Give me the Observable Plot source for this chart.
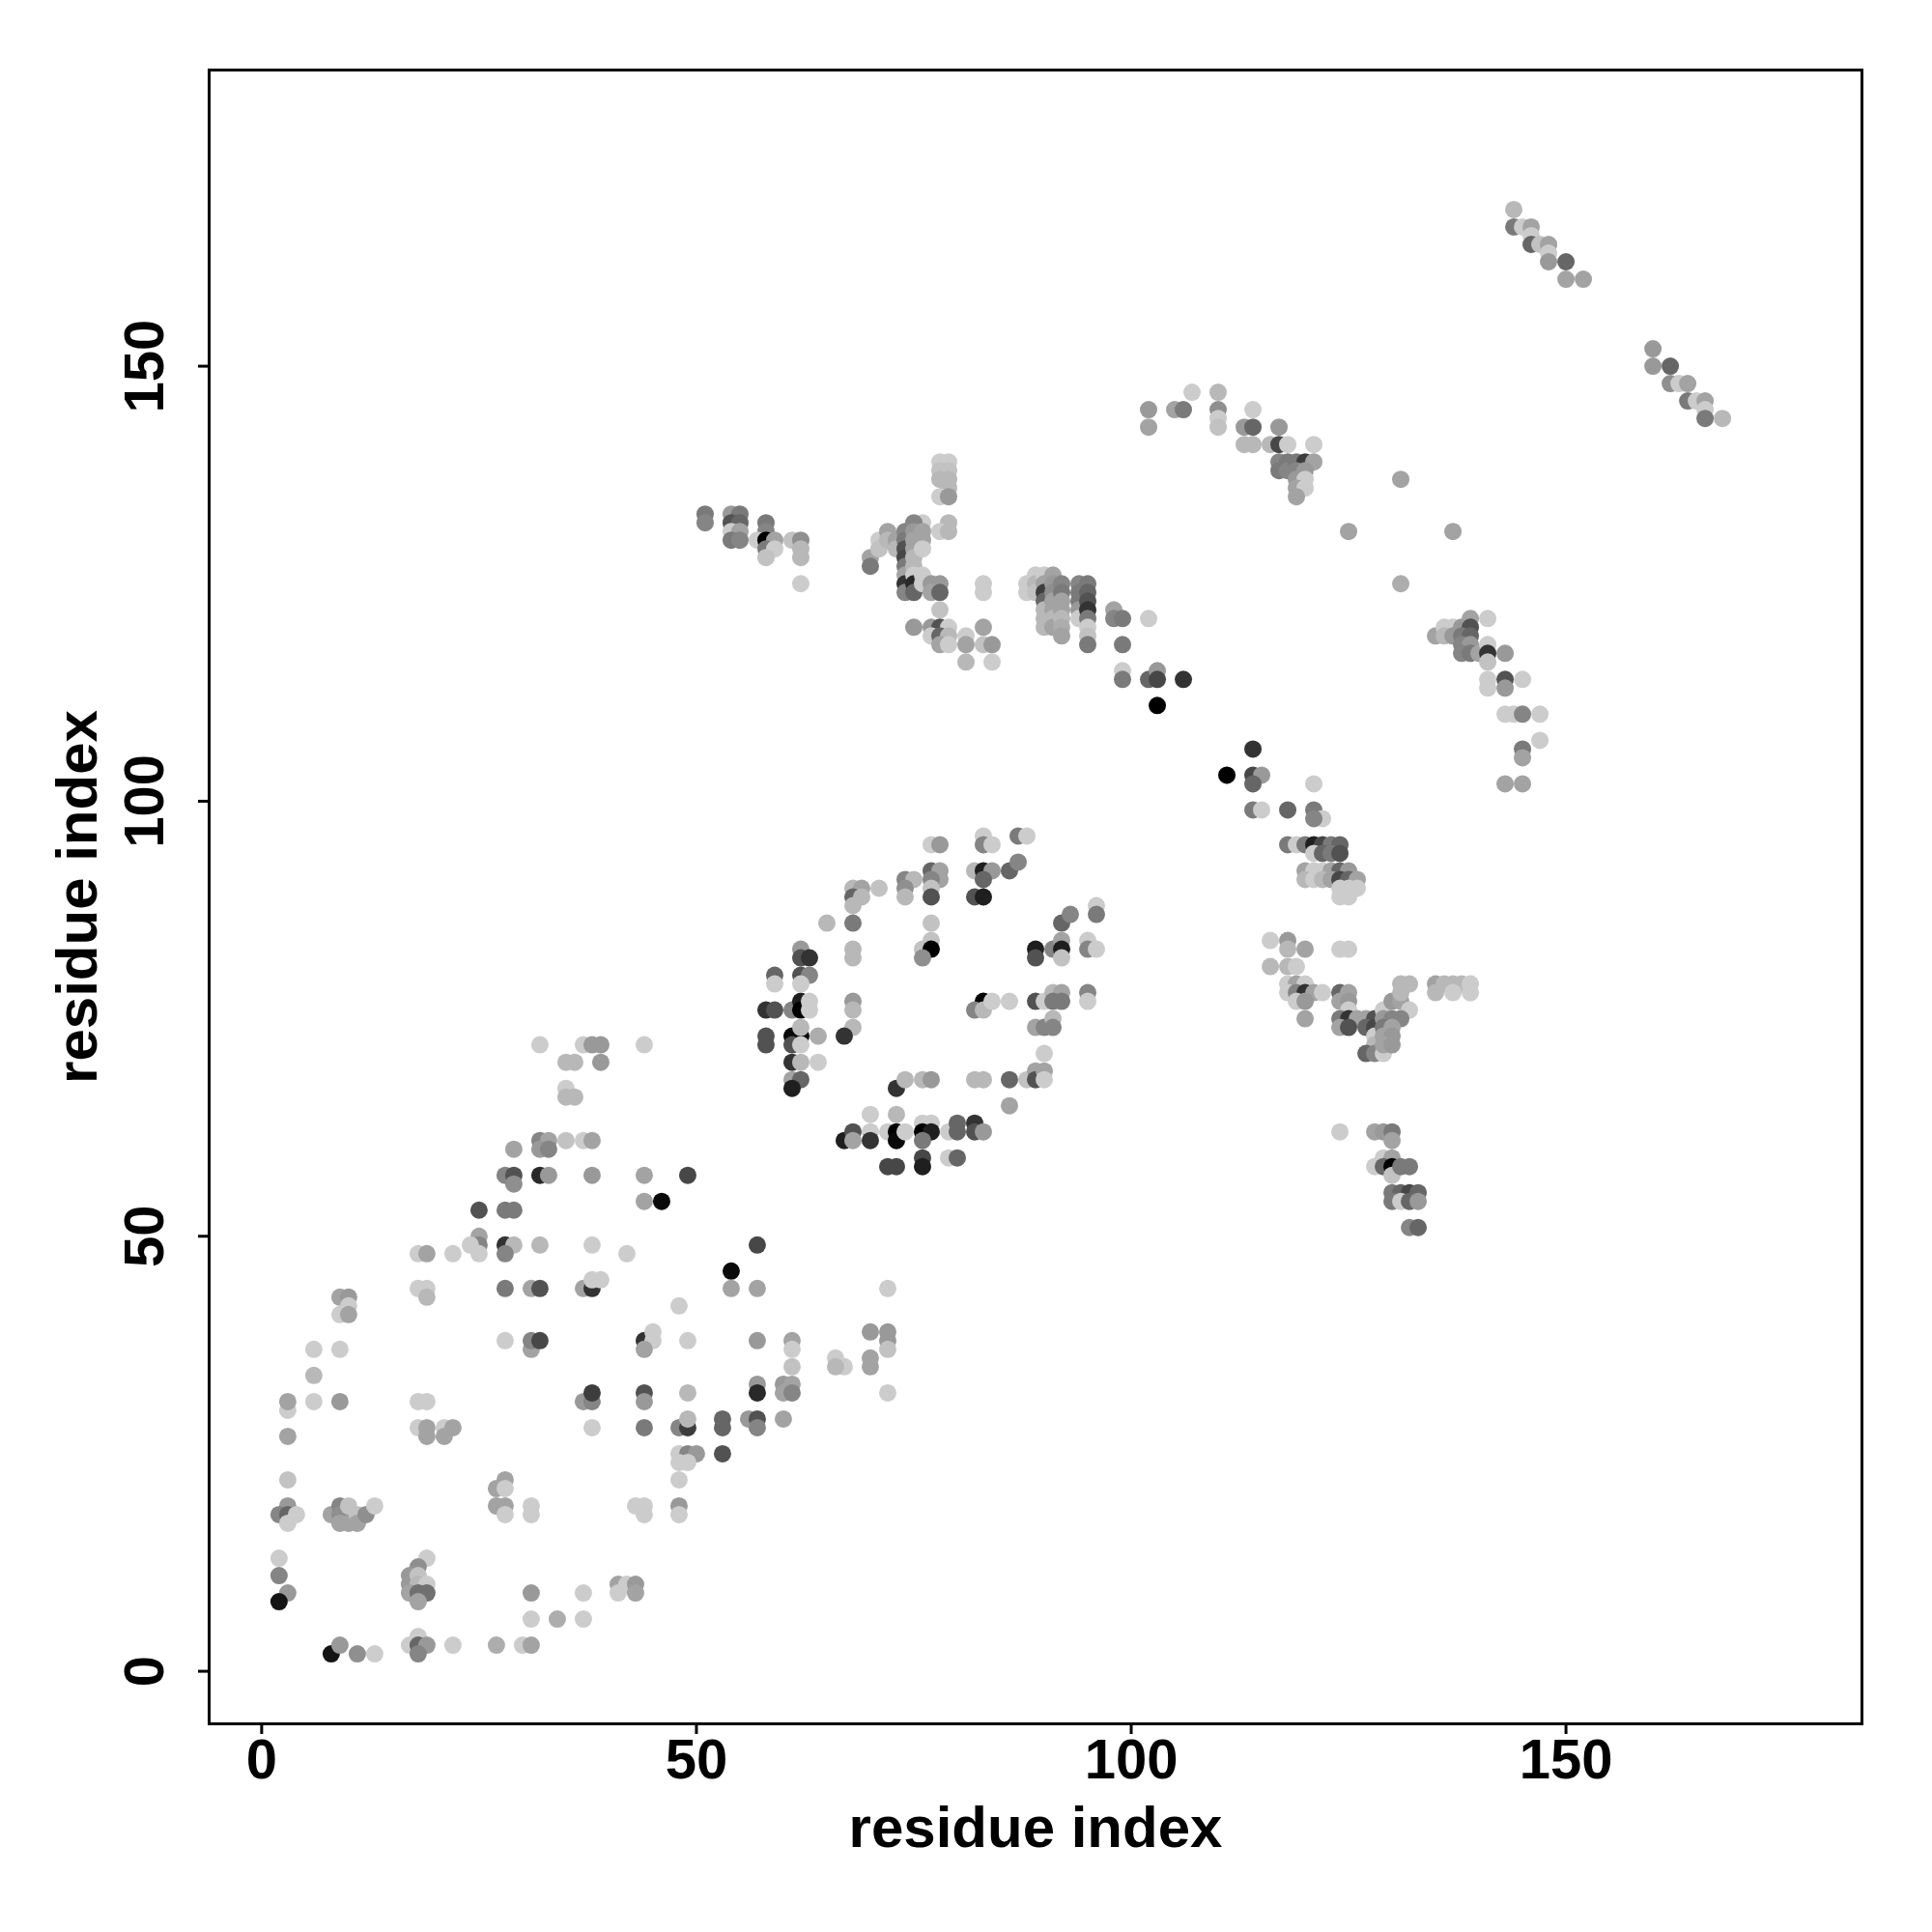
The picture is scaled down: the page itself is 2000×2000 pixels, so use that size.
<!DOCTYPE html>
<html><head><meta charset="utf-8">
<script src="https://cdn.jsdelivr.net/npm/d3@7"></script>
<script src="https://cdn.jsdelivr.net/npm/@observablehq/plot@0.6"></script>
<style>body{margin:0;background:#fff} svg{display:block}</style>
</head><body><div id="chart"></div>
<script>
// [residue i, residue j, shade score 0 (light) .. 10 (black)]
const lowerLeftA = [
[6,37,0],[9,37,0],[6,34,1],[3,30,0],[3,31,2],[6,31,0],[9,31,2.5],[3,27,2],
[18,31,0],[19,31,0],[18,28,0],[19,28,2],[19,27,2],[21,28,0],[22,28,2],[21,27,2],
[28,38,0],[31,37,2],[31,38,3.5],[32,38,6.5],
[37,31,2.5],[38,31,3.5],[38,32,7],[38,28,0],
[3,22,0.5],
[3,19,2.5],[2,18,3.5],[3,18,5],[4,18,0],[3,17,0],
[8,18,2],[9,19,3.5],[9,18,3],[9,17,2],[10,19,0.5],[10,17,2],[11,18,0.5],[11,17,2],[12,18,3],[13,19,0],
[27,21,2],[28,22,2],[28,21,0],[27,19,2],[28,19,2],[28,18,0],[31,19,0],[31,18,0],
[2,13,0],[2,11,3.5],[3,9,2.5],[2,8,9],
[19,13,0],[18,12,3],[17,11,2.5],[17,10,2.5],[18,11,0.5],[18,10,1],[19,10,0],[17,9,2],[18,9,4.5],[19,9,4.5],[18,8,2],
[31,9,2.5],[37,9,0],
[31,6,0],[34,6,1.5],[37,6,0],
[8,2,9],[9,3,2.5],[11,2,3],[13,2,0],
[17,3,0],[18,4,0],[18,3,5],[19,3,2.5],[18,2,3.5],[22,3,0],
[27,3,1.5],[30,3,0],[31,3,2]
];
const lowerLeftB = [
[32,72,0],[37,72,0],[38,72,2.5],[39,72,2.5],
[35,70,1],[36,70,1],[39,70,2.5],
[35,67,0],[35,66,1],[36,66,1],
[32,61,3.5],[33,61,2],[32,60,2.5],[33,60,3.5],[35,61,0.5],[37,61,0],[38,61,2],
[29,60,2],
[28,57,3.5],[29,57,6],[29,56,3],[32,57,8],[33,57,2.5],[38,57,2.5],
[25,53,6],[28,53,4],[29,53,4],
[25,50,2],[25,49,3.5],[24,49,0],[25,48,0],[28,49,7.5],[29,49,1],[28,48,3.5],[32,49,1],[38,49,0],[42,48,0],
[18,48,0],[19,48,2],[22,48,0],
[18,44,0],[19,44,0],[19,43,1],
[9,43,2],[10,43,2.5],[10,42,0],[9,41,0],[10,41,2],
[28,44,4],[31,44,2],[32,44,6],[37,44,2],[38,44,7.5],[38,45,0],[39,45,0]
];
const lowerMid = [
[44,38,7.5],[45,39,0],[45,38,0],[44,37,2],[49,38,0],
[57,38,2.5],[61,38,2],[61,37,0],[61,35,0.5],
[66,36,0],[67,35,0],[66,35,1],
[70,39,2.5],[72,39,2.5],[72,38,2.5],[72,37,0.5],[70,36,2],[70,35,2],
[72,32,0],
[44,32,6],[44,31,2.5],[49,32,1],
[57,33,2.5],[57,32,8],[60,33,2.5],[61,33,2],[60,32,2],[61,32,3.5],
[44,28,4],[48,28,3.5],[49,28,7],[49,29,1],[53,29,5],[53,28,5],[56,29,2.5],[57,29,6],[57,28,3.5],[60,29,2],
[48,25,0],[49,25,3.5],[50,25,2.5],[48,24,0],[49,24,0],[53,25,6],
[48,22,0],
[43,19,0],[44,19,0],[44,18,0],[48,19,2.5],[48,18,0],
[41,10,2],[42,10,0],[43,10,2.5],[41,9,0],[43,9,2]
];
const middleLower = [
[58,76,7.5],[59,76,6],[61,76,3.5],[62,77,8.5],[62,76,10],[63,77,0],[63,76,0],[68,77,2.5],[68,76,1],[68,74,1],[67,73,7.5],
[58,73,6],[58,72,6],[61,73,9.5],[62,73,9.5],[62,74,1],[61,72,6],[62,72,0],[64,73,1.5],
[61,70,7.5],[62,70,1],[64,70,0],
[61,68,2],[62,68,5],[61,67,8.5],
[44,72,0],
[73,67,7.5],[74,68,1],[76,68,1],[77,68,2.5],
[67,61,8.5],[68,62,6],[68,61,2],[70,64,0],[70,62,0],[70,61,7.5],[72,62,0],[73,64,1],[73,62,10],[73,61,9.5],[74,62,0],[76,63,0],[77,63,0],[76,62,10],[77,62,8.5],[76,61,4],[79,62,0],
[72,58,6.5],[73,58,6.5],[76,59,6.5],[76,58,8.5],[79,59,0],
[44,57,2],[49,57,6.5],[44,54,2],[46,54,9.5],
[57,49,6.5],[54,46,9.5],[54,44,2],[57,44,2],[48,42,0],[72,44,0]
];
const middleRight = [
[83,96,0],[83,95,3.5],[84,95,0],[87,96,4],[88,96,0],
[82,92,1],[83,92,8.5],[84,92,2.5],[83,91,5],[86,92,5],[87,93,3.5],
[82,89,6],[83,89,8.5],
[92,86,5],[93,87,3.5],[96,88,0],[96,87,4],
[89,83,8.5],[89,82,6],[91,83,3.5],[92,84,2],[92,83,8.5],[92,82,0.5],[95,84,0],[95,83,3.5],[96,83,0],
[83,77,10],[82,76,3.5],[83,76,1],[84,77,0],[86,77,0],
[89,77,6],[90,77,0],[91,78,1],[92,78,2],[91,77,4],[92,77,4],[95,78,3.5],[95,77,0],
[89,74,2],[90,74,3.5],[91,75,1],[91,74,3.5],
[90,71,0],
[82,68,1],[83,68,1],[86,68,5],[88,68,0.5],[89,69,2],[89,68,6],[90,69,2],[90,68,0],
[86,65,2],
[80,63,5],[80,62,5],[82,63,7.5],[82,62,6],[83,62,2.5],
[80,59,5]
];
const middleUpper = [
[77,95,0],[78,95,2.5],
[77,92,5],[78,92,2],[78,91,2],[77,91,3.5],[77,90,0.5],[77,89,6],
[74,91,3.5],[75,91,1],[74,90,3],[74,89,1],
[68,90,1],[69,90,2],[68,89,5],[69,89,1],[68,88,1],[71,90,0.5],
[65,86,1],[68,86,4],
[77,86,0.5],[77,84,0.5],[76,83,0.5],[77,83,10],[76,82,3],
[68,83,1],[68,82,1],
[62,83,2.5],[62,82,6],[63,82,7.5],
[59,80,5],[59,79,0],[62,80,6],[63,80,3.5],[62,79,0]
];
const upperLeft = [
[51,133,4],[51,132,3.5],
[54,133,2.5],[55,133,4],[54,132,6],[55,132,5],[54,131,0],[55,131,2],[54,130,4],[55,130,3.5],
[58,132,4],[58,131,3.5],[57,130,0],[58,130,10],[59,130,2],[58,129,4],[59,129,0],[58,128,0.5],
[61,130,0.5],[62,130,3],[62,129,1],[62,128,1],[62,125,0],
[78,139,0],[79,139,0],[78,138,0.5],[79,138,0.5],[78,137,1],[79,137,1],[79,136,1],[78,135,0],[79,135,2.5],
[76,132,0],[79,132,1],[78,131,0],[79,131,1],
[70,128,2],[70,127,4],[71,130,0],[71,129,0.5],[72,131,2],[72,130,1],[73,130,2],[73,129,1],
[74,131,3.5],[74,130,4],[74,129,6],[74,128,6.5],[74,127,4],[74,126,2],[74,125,7.5],[74,124,3.5],
[75,132,3.5],[75,131,2.5],[75,130,2],[75,129,2],[75,128,1],[75,127,1],[75,126,0],[75,125,8],[75,124,5],
[76,131,2],[76,130,2],[76,129,0],[76,126,0],[76,125,0],
[77,125,2.5],[78,125,2.5],[77,124,2],[78,124,5],
[83,125,0],[83,124,0],
[78,122,0.5],[75,120,2.5],[77,120,2.5],[78,120,6],[79,120,0],[77,119,0],[78,119,5],[79,119,1],[78,118,2],[79,118,0],
[81,119,0],[81,118,2],[81,116,1],[83,120,2],[83,118,0.5],[84,118,2.5],[84,116,0]
];
const upperMid = [
[107,147,0],[110,147,1],
[102,145,2.5],[102,143,2],[105,145,2],[106,145,4],
[110,145,3],[110,144,0],[110,143,0.5],
[114,145,0],[113,143,2.5],[114,143,5],[117,143,2.5],
[113,141,1],[114,141,1],[116,141,1],[117,141,6.5],[118,141,0],[121,141,0],
[117,139,3.5],[117,138,4],[118,139,4],[118,138,3.5],[119,139,4],[120,139,7],[121,139,2],[119,138,3.5],[119,137,2.5],[120,138,2.5],[120,137,0],[119,136,2],[120,136,0],[119,135,2],
[131,137,2],[125,131,2],[131,125,1.5],
[88,125,0],[88,124,0],[89,126,0],[89,125,1],[89,124,0.5],[90,126,0],[90,125,2],[90,124,7],[90,123,5],[90,122,1],[90,121,1],[90,120,1],
[91,126,2],[91,125,2.5],[91,124,3],[91,123,2],[91,122,2],[91,121,1],[91,120,2],
[92,125,3.5],[92,124,4],[92,123,2],[92,122,2],[92,121,1],[92,120,1.5],[92,119,2],
[94,125,3.5],[94,124,4],[94,123,4],[94,122,2.5],[94,121,0],
[95,125,4],[95,124,5],[95,123,6],[95,122,7.5],[95,121,4],[95,120,0],[95,119,0.5],[95,118,4],
[98,122,2],[98,121,3.5],[99,121,4],[102,121,0],
[99,118,4],
[99,115,0],[99,114,4],[102,114,5],[103,115,2.5],[103,114,6.5],[106,114,7.5],
[103,111,10]
];
const rightMid = [
[114,106,7.5],[111,103,10],[114,103,6.5],[115,103,2.5],[114,102,5],[121,102,0],
[114,99,4],[115,99,0],[118,99,5],[121,99,4],[122,98,0],[121,98,3.5],
[118,95,4],[119,95,0],[120,95,4],[121,95,8.5],[122,95,6.5],[123,95,4],[124,95,5],
[121,94,0],[122,94,5],[123,94,4],[124,94,6],
[120,92,2],[121,92,0],[122,92,0],[123,92,2],[124,92,5],[125,92,2.5],
[120,91,1],[121,91,0],[122,91,1],[123,91,2],[124,91,6.5],[125,91,5],[126,91,2],
[124,90,0],[125,90,0],[126,90,0],
[124,89,0],[125,89,0],
[116,84,0],[118,84,2.5],[118,83,1],[120,83,2],[124,83,0],[125,83,0],
[116,81,1],[118,81,1],[119,81,0],
[118,79,0],[119,79,2],[120,79,0],[118,78,0],[119,78,3.5],[120,78,7.5],[121,78,2],[122,78,0],[119,77,0],[120,77,2.5],[120,75,2],
[124,78,5],[125,78,2],[124,77,2],[125,77,2.5],[125,76,0],[124,75,4],[125,75,7.5],[126,75,2],[127,75,2],[128,75,6],
[124,74,2],[125,74,6],[127,74,5],[128,74,6.5],[128,73,0],[128,72,1],[127,71,5],[128,71,3.5],[129,71,0],
[129,76,0],[130,77,2.5],[131,77,2],[132,76,0],[129,75,2.5],[130,75,3.5],[131,75,3.5],[129,74,4],[130,74,2],[129,73,2],[130,73,2.5],[129,72,2],[130,72,2.5],
[131,79,1],[132,79,1],[131,78,1],
[135,79,2],[136,79,1],[137,79,1],[138,79,1],[139,79,0],[135,78,1],[137,78,0],[139,78,0],
[124,62,0],[128,62,2],[129,62,2.5],[130,62,4],[130,61,2],
[129,59,0],[130,59,2],[128,58,0],[129,58,5],[130,58,10],[130,57,0.5],[131,58,4],[132,58,4],
[130,55,4],[131,55,5],[132,55,6.5],[133,55,5],[130,54,4],[131,54,0],[132,54,5],[133,54,2.5],
[132,51,3.5],[133,51,5]
];
const rightUpper = [
[137,131,2],
[135,119,2],[136,120,0],[137,120,0],[136,119,1],[137,119,2.5],[138,120,2.5],[139,121,2],[139,120,6],[141,121,0],
[138,119,4],[139,119,5],[138,118,3.5],[139,118,2.5],[138,117,3.5],[139,117,4],[140,117,2],[141,118,0],[141,117,7.5],[141,116,0.5],[143,117,2.5],
[141,114,0],[141,113,0],[143,114,6],[143,113,2.5],[145,114,0],
[143,110,0],[144,110,0],[145,110,3.5],[147,110,0],
[147,107,0],[145,106,4],[145,105,2],
[143,102,2],[145,102,2]
];
const topRight = [
[144,168,1],[144,166,4],[145,166,0],[146,166,2],
[146,165,0],[146,164,5],[147,164,0.5],[148,164,2],[148,163,0],[148,162,2.5],[150,162,5],[150,160,2],[152,160,2],
[160,152,2.5],[160,150,2.5],[162,150,5],[162,148,3],[163,148,0],[164,148,2],[164,146,4],[165,146,0],[166,146,2],[166,145,0],[166,144,4],[168,144,1]
];
const tickValues = [0, 50, 100, 150];
const axisTitle = "residue index";

const contacts = [...lowerLeftA, ...lowerLeftB, ...lowerMid, ...middleLower, ...middleRight,
  ...middleUpper, ...upperLeft, ...upperMid, ...rightMid, ...rightUpper, ...topRight]
  .map(([i, j, s]) => ({i, j, s}));

const font = "'Liberation Sans', Arial, Helvetica, sans-serif";
const chart = Plot.plot({
  width: 2000, height: 2000,
  marginLeft: 216, marginRight: 73, marginTop: 72, marginBottom: 216,
  x: {domain: [-6.04, 184.04]},
  y: {domain: [-6.04, 184.04]},
  color: {type: "linear", domain: [0, 10], range: ["#cccccc", "#000000"], interpolate: "rgb"},
  style: {fontFamily: font, background: "white", color: "black"},
  marks: [
    Plot.dot(contacts, {x: "i", y: "j", r: 9, fill: "s", stroke: null}),
    Plot.frame({stroke: "black", strokeWidth: 3}),
    Plot.axisX(tickValues, {tickSize: 11, strokeWidth: 3, tickFormat: () => "", label: null}),
    Plot.axisY(tickValues, {tickSize: 11, strokeWidth: 3, tickFormat: () => "", label: null}),
    Plot.text(tickValues, {x: d => d, frameAnchor: "bottom", dy: 38, text: d => String(d),
      fontSize: 58, fontWeight: "bold", lineAnchor: "middle", fill: "black"}),
    Plot.text(tickValues, {y: d => d, frameAnchor: "left", dx: -66, rotate: -90, text: d => String(d),
      fontSize: 58, fontWeight: "bold", lineAnchor: "middle", textAnchor: "middle", fill: "black"}),
    Plot.text([axisTitle], {frameAnchor: "bottom", dy: 108, text: d => d,
      fontSize: 60, fontWeight: "bold", lineAnchor: "middle", textAnchor: "middle", fill: "black"}),
    Plot.text([axisTitle], {frameAnchor: "left", dx: -136, rotate: -90, text: d => d,
      fontSize: 60, fontWeight: "bold", lineAnchor: "middle", textAnchor: "middle", fill: "black"})
  ]
});
document.getElementById("chart").appendChild(chart);
</script>
</body></html>
